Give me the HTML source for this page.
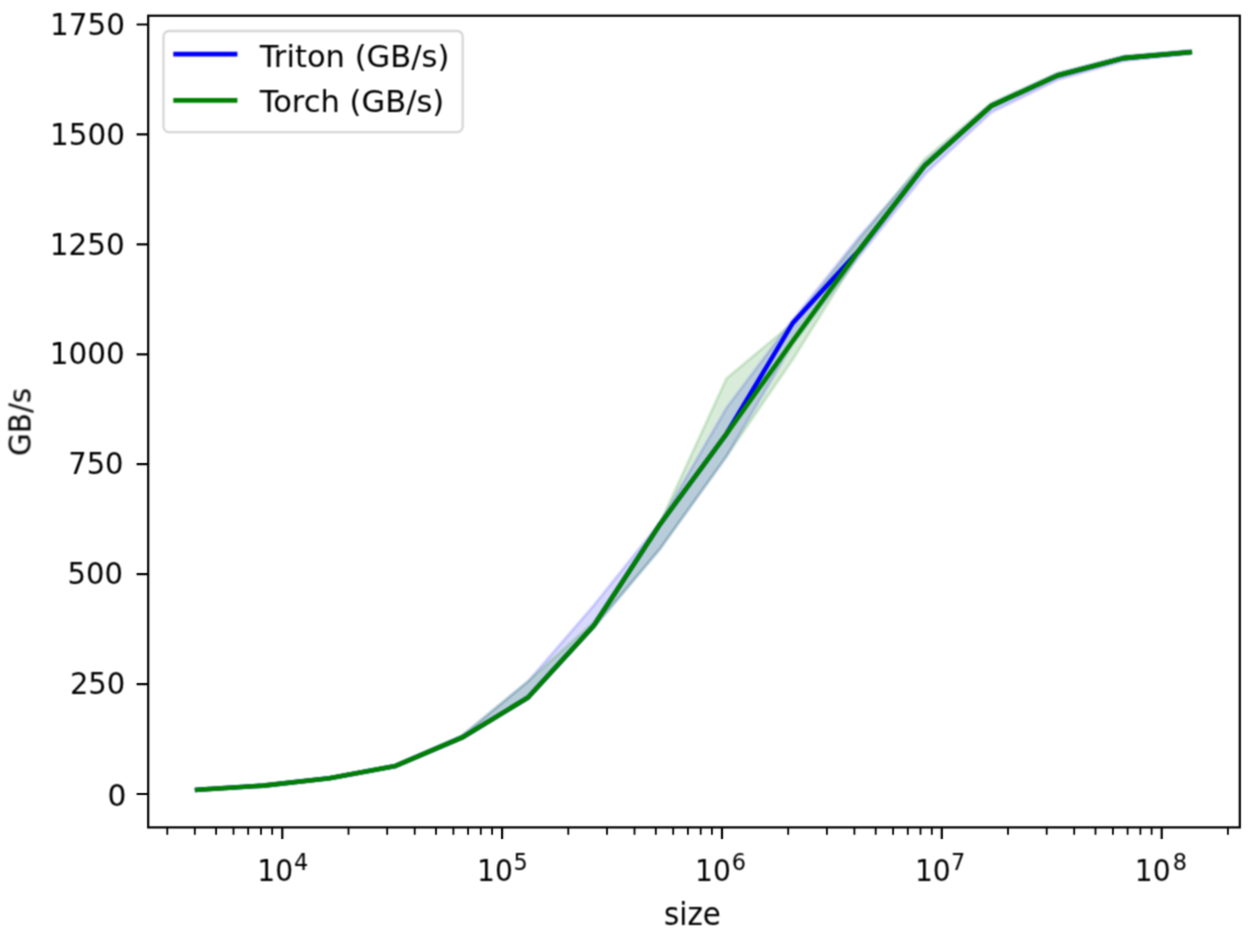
<!DOCTYPE html>
<html lang="en"><head><meta charset="utf-8"><title>vector-add-performance</title>
<style>html,body{margin:0;padding:0;background:#fff}svg{display:block}text{font-family:"DejaVu Sans","Liberation Sans",sans-serif;fill:#000}</style></head><body>
<svg width="1258" height="934" viewBox="0 0 1258 934">
<rect width="1258" height="934" fill="#fff"/>
<defs><filter id="soft" x="0" y="0" width="1258" height="934" filterUnits="userSpaceOnUse" color-interpolation-filters="sRGB"><feConvolveMatrix order="3" kernelMatrix="1 2 1 2 4 2 1 2 1" divisor="16" edgeMode="none" preserveAlpha="false"/></filter><filter id="soft2" x="0" y="0" width="1258" height="934" filterUnits="userSpaceOnUse" color-interpolation-filters="sRGB"><feConvolveMatrix order="3" kernelMatrix="1 4 1 4 16 4 1 4 1" divisor="36" edgeMode="none" preserveAlpha="false"/></filter><clipPath id="ax"><rect x="148.2" y="15.7" width="1091.6" height="811.6999999999999"/></clipPath></defs>
<g filter="url(#soft)">
<g clip-path="url(#ax)">
<polygon points="197.1,789.6 263.3,785.2 329.4,777.5 395.6,765.0 461.8,736.0 528.0,681.4 594.2,604.9 660.3,522.3 726.5,407.9 792.7,320.0 858.9,237.3 925.1,162.1 991.3,104.5 1057.4,73.7 1123.6,56.6 1189.8,50.4 1189.8,54.0 1123.6,61.0 1057.4,79.9 991.3,112.4 925.1,174.0 858.9,256.7 792.7,343.7 726.5,456.3 660.3,548.4 594.2,626.9 528.0,698.6 461.8,738.6 395.6,766.3 329.4,778.6 263.3,785.9 197.1,790.0" fill="#0000ff" fill-opacity="0.15" stroke="#0000ff" stroke-opacity="0.15" stroke-width="3.06" stroke-linejoin="round"/>
<polygon points="197.1,789.6 263.3,785.2 329.4,777.5 395.6,765.0 461.8,736.0 528.0,681.4 594.2,621.6 660.3,522.3 726.5,378.5 792.7,323.1 858.9,240.0 925.1,158.6 991.3,102.8 1057.4,72.9 1123.6,56.1 1189.8,50.9 1189.8,53.1 1123.6,59.2 1057.4,77.3 991.3,108.0 925.1,167.4 858.9,254.0 792.7,359.6 726.5,456.3 660.3,548.4 594.2,626.9 528.0,698.6 461.8,738.6 395.6,766.3 329.4,778.6 263.3,785.9 197.1,790.0" fill="#008000" fill-opacity="0.15" stroke="#008000" stroke-opacity="0.15" stroke-width="3.06" stroke-linejoin="round"/>
<polyline points="197.1,789.8 263.3,785.6 329.4,778.2 395.6,765.9 461.8,737.7 528.0,697.5 594.2,625.1 660.3,523.8 726.5,433.8 792.7,323.1 858.9,250.5 925.1,165.2 991.3,105.8 1057.4,75.5 1123.6,58.1 1189.8,52.2" fill="none" stroke="#0000ff" stroke-width="4.58" stroke-linecap="square" stroke-linejoin="round"/>
<polyline points="197.1,789.8 263.3,785.6 329.4,778.2 395.6,765.9 461.8,737.7 528.0,697.5 594.2,625.1 660.3,523.8 726.5,433.8 792.7,341.1 858.9,250.5 925.1,165.2 991.3,105.8 1057.4,75.5 1123.6,58.1 1189.8,52.2" fill="none" stroke="#008000" stroke-width="4.58" stroke-linecap="square" stroke-linejoin="round"/>
</g>
</g>
<g filter="url(#soft2)">
<path d="M282.3,827.4v11.6 M502.1,827.4v11.6 M722.0,827.4v11.6 M941.8,827.4v11.6 M1161.7,827.4v11.6" stroke="#000" stroke-width="2.20" fill="none"/>
<path d="M167.3,827.4v7.3 M194.8,827.4v7.3 M216.1,827.4v7.3 M233.5,827.4v7.3 M248.2,827.4v7.3 M261.0,827.4v7.3 M272.2,827.4v7.3 M348.5,827.4v7.3 M387.2,827.4v7.3 M414.7,827.4v7.3 M436.0,827.4v7.3 M453.4,827.4v7.3 M468.1,827.4v7.3 M480.8,827.4v7.3 M492.1,827.4v7.3 M568.3,827.4v7.3 M607.0,827.4v7.3 M634.5,827.4v7.3 M655.8,827.4v7.3 M673.2,827.4v7.3 M687.9,827.4v7.3 M700.7,827.4v7.3 M711.9,827.4v7.3 M788.2,827.4v7.3 M826.9,827.4v7.3 M854.4,827.4v7.3 M875.7,827.4v7.3 M893.1,827.4v7.3 M907.8,827.4v7.3 M920.5,827.4v7.3 M931.8,827.4v7.3 M1008.0,827.4v7.3 M1046.7,827.4v7.3 M1074.2,827.4v7.3 M1095.5,827.4v7.3 M1112.9,827.4v7.3 M1127.6,827.4v7.3 M1140.4,827.4v7.3 M1151.6,827.4v7.3 M1227.9,827.4v7.3" stroke="#000" stroke-width="1.83" fill="none"/>
<path d="M148.2,794.0h-11.6 M148.2,684.1h-11.6 M148.2,574.1h-11.6 M148.2,464.2h-11.6 M148.2,354.3h-11.6 M148.2,244.4h-11.6 M148.2,134.4h-11.6 M148.2,24.5h-11.6" stroke="#000" stroke-width="2.20" fill="none"/>
<rect x="148.2" y="15.7" width="1091.6" height="811.7" fill="none" stroke="#000" stroke-width="2.20"/>
</g>
<g filter="url(#soft)">
<text x="126.3" y="806.2" font-size="30.56" text-anchor="end" textLength="18.9" lengthAdjust="spacingAndGlyphs">0</text>
<text x="125.3" y="694.2" font-size="30.56" text-anchor="end" textLength="55.4" lengthAdjust="spacingAndGlyphs">250</text>
<text x="122.9" y="584.2" font-size="30.56" text-anchor="end" textLength="55.4" lengthAdjust="spacingAndGlyphs">500</text>
<text x="123.6" y="474.3" font-size="30.56" text-anchor="end" textLength="55.4" lengthAdjust="spacingAndGlyphs">750</text>
<text x="124.8" y="364.4" font-size="30.56" text-anchor="end" textLength="75.0" lengthAdjust="spacingAndGlyphs">1000</text>
<text x="124.8" y="254.5" font-size="30.56" text-anchor="end" textLength="75.0" lengthAdjust="spacingAndGlyphs">1250</text>
<text x="125.1" y="144.5" font-size="30.56" text-anchor="end" textLength="75.0" lengthAdjust="spacingAndGlyphs">1500</text>
<text x="125.1" y="34.6" font-size="30.56" text-anchor="end" textLength="75.0" lengthAdjust="spacingAndGlyphs">1750</text>
<text x="257.3" y="881.3" font-size="30.56" textLength="35.8" lengthAdjust="spacingAndGlyphs">10</text>
<text x="294.1" y="869.8" font-size="22.4">4</text>
<text x="477.1" y="881.3" font-size="30.56" textLength="35.8" lengthAdjust="spacingAndGlyphs">10</text>
<text x="513.5" y="869.8" font-size="22.4">5</text>
<text x="695.1" y="881.3" font-size="30.56" textLength="35.8" lengthAdjust="spacingAndGlyphs">10</text>
<text x="731.7" y="869.8" font-size="22.4">6</text>
<text x="914.9" y="881.3" font-size="30.56" textLength="35.8" lengthAdjust="spacingAndGlyphs">10</text>
<text x="951.0" y="869.8" font-size="22.4">7</text>
<text x="1134.8" y="881.3" font-size="30.56" textLength="35.8" lengthAdjust="spacingAndGlyphs">10</text>
<text x="1172.7" y="869.8" font-size="22.4">8</text>
<text transform="translate(692.4,925.2) scale(0.958,1.03)" font-size="30.56" text-anchor="middle">size</text>
<text transform="translate(30.5,421.9) rotate(-90) scale(0.96,1)" font-size="30.56" text-anchor="middle">GB/s</text>
<rect x="163.5" y="31" width="299.2" height="101.1" rx="5.5" ry="5.5" fill="#fff" fill-opacity="0.8" stroke="#cccccc" stroke-opacity="0.8" stroke-width="2.3"/>
<path d="M173.3,54.1h64.1" stroke="#0000ff" stroke-width="4.58"/>
<path d="M173.3,100.4h64.1" stroke="#008000" stroke-width="4.58"/>
<text x="259.7" y="66.8" font-size="30.56">Triton (GB/s)</text>
<text x="259.7" y="112.4" font-size="30.56">Torch (GB/s)</text>
</g>
</svg></body></html>
